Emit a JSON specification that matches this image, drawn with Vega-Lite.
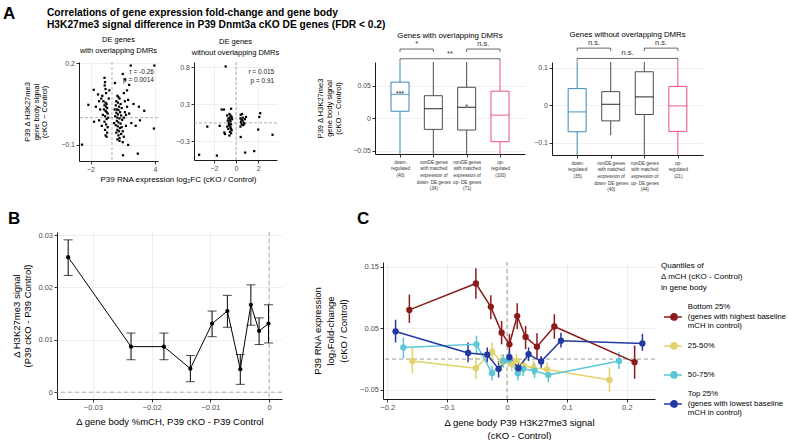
{
"$schema": "https://vega.github.io/schema/vega-lite/v6.json",
"padding": {"left": 3, "top": 4, "right": 0, "bottom": 0},
"bounds": "flush",
"spacing": 170,
"resolve": {"scale": {"color": "independent"}, "legend": {"color": "independent"}},
"datasets": {
"one": [{}],
"s1": [{"x":-0.7,"y":0.146},{"x":-0.65,"y":0.13},{"x":-0.68,"y":0.118},{"x":-0.6,"y":0.105},{"x":-0.55,"y":0.09},{"x":-0.9,"y":0.08},{"x":-1.0,"y":0.07},{"x":-0.8,"y":0.06},{"x":-0.6,"y":0.055},{"x":-0.5,"y":0.05},{"x":-0.7,"y":0.045},{"x":-0.55,"y":0.04},{"x":-0.45,"y":0.035},{"x":-0.75,"y":0.03},{"x":-0.6,"y":0.025},{"x":-0.5,"y":0.02},{"x":-0.4,"y":0.015},{"x":-0.85,"y":0.01},{"x":-0.65,"y":0.005},{"x":-0.5,"y":-0.005},{"x":-0.35,"y":0.0},{"x":-0.7,"y":-0.015},{"x":-0.55,"y":-0.025},{"x":-0.4,"y":-0.035},{"x":-0.65,"y":-0.045},{"x":-0.45,"y":-0.055},{"x":-0.6,"y":-0.065},{"x":-0.5,"y":-0.07},{"x":-0.3,"y":0.07},{"x":-0.25,"y":0.1},{"x":-1.3,"y":0.085},{"x":-1.5,"y":0.04},{"x":-1.2,"y":-0.01},{"x":-1.1,"y":0.03},{"x":-0.95,"y":-0.03},{"x":-1.7,"y":0.102},{"x":-2.2,"y":0.047},{"x":-1.67,"y":-0.015},{"x":-2.79,"y":-0.099},{"x":-1.2,"y":0.06},
{"x":0.28,"y":0.127},{"x":0.5,"y":0.08},{"x":0.6,"y":0.075},{"x":0.7,"y":0.07},{"x":0.4,"y":0.06},{"x":0.55,"y":0.055},{"x":0.8,"y":0.05},{"x":0.35,"y":0.045},{"x":0.65,"y":0.04},{"x":0.9,"y":0.035},{"x":0.45,"y":0.03},{"x":0.6,"y":0.028},{"x":0.75,"y":0.02},{"x":0.4,"y":0.018},{"x":0.55,"y":0.012},{"x":0.85,"y":0.008},{"x":0.3,"y":0.005},{"x":0.5,"y":0.0},{"x":0.7,"y":-0.003},{"x":0.95,"y":-0.008},{"x":0.45,"y":-0.012},{"x":0.6,"y":-0.018},{"x":0.8,"y":-0.022},{"x":0.35,"y":-0.028},{"x":0.55,"y":-0.032},{"x":0.75,"y":-0.038},{"x":0.5,"y":-0.045},{"x":0.65,"y":-0.05},{"x":0.4,"y":-0.055},{"x":0.85,"y":-0.06},{"x":0.6,"y":-0.065},{"x":0.7,"y":-0.075},{"x":0.5,"y":-0.08},{"x":1.0,"y":-0.09},{"x":0.7,"y":-0.085},{"x":1.02,"y":-0.138},{"x":1.5,"y":-0.1},{"x":1.1,"y":0.0},{"x":1.2,"y":0.02},{"x":1.3,"y":-0.03},{"x":1.4,"y":0.04},{"x":1.2,"y":0.06},{"x":1.1,"y":0.09},{"x":1.0,"y":-0.05},{"x":1.3,"y":0.01},{"x":1.6,"y":0.015},{"x":1.8,"y":-0.02},{"x":1.5,"y":0.065},{"x":1.74,"y":0.191},{"x":1.0,"y":0.16},{"x":1.2,"y":0.14},{"x":1.6,"y":0.12},{"x":1.4,"y":0.1},{"x":2.0,"y":0.05},{"x":2.2,"y":-0.03},{"x":2.4,"y":-0.132},{"x":2.5,"y":0.04},{"x":2.6,"y":-0.01},{"x":3.0,"y":0.025},{"x":3.94,"y":0.191},{"x":3.9,"y":-0.04},{"x":0.2,"y":-0.02},{"x":0.25,"y":0.03},{"x":0.9,"y":-0.035},{"x":1.1,"y":-0.07}],
"s2": [{"x":-0.94,"y":0.76},{"x":-2.6,"y":-0.05},{"x":-3.34,"y":-0.43},{"x":-1.73,"y":-0.44},{"x":-1.3,"y":0.18},{"x":-1.09,"y":0.18},{"x":-0.45,"y":0.19},{"x":-1.48,"y":-0.04},{"x":-1.06,"y":-0.13},{"x":-1.0,"y":-0.15},{"x":-0.8,"y":0.1},{"x":-0.7,"y":0.06},{"x":-0.6,"y":0.12},{"x":-0.55,"y":0.04},{"x":-0.5,"y":0.02},{"x":-0.65,"y":0.0},{"x":-0.45,"y":-0.02},{"x":-0.6,"y":-0.04},{"x":-0.5,"y":-0.06},{"x":-0.7,"y":-0.08},{"x":-0.4,"y":-0.1},{"x":-0.55,"y":-0.12},{"x":-0.45,"y":-0.14},{"x":-0.6,"y":-0.17},{"x":-0.75,"y":0.03},{"x":-0.4,"y":0.08},{"x":-0.5,"y":0.1},{"x":-0.35,"y":0.05},{"x":-0.65,"y":-0.02},{"x":-0.55,"y":0.07},{"x":-0.8,"y":-0.05},{"x":-0.45,"y":-0.08},{"x":0.42,"y":0.11},{"x":0.55,"y":0.12},{"x":0.4,"y":0.06},{"x":0.5,"y":0.04},{"x":0.6,"y":0.03},{"x":0.45,"y":0.01},{"x":0.7,"y":0.0},{"x":0.5,"y":-0.02},{"x":0.65,"y":-0.03},{"x":0.4,"y":-0.05},{"x":0.8,"y":0.05},{"x":0.6,"y":0.07},{"x":0.75,"y":-0.01},{"x":0.42,"y":-0.19},{"x":2.18,"y":0.13},{"x":2.1,"y":0.08},{"x":2.0,"y":-0.09},{"x":3.3,"y":-0.16},{"x":0.82,"y":-0.4},{"x":1.64,"y":-0.38},{"x":0.9,"y":0.08}],
"a1": [{"x":3.9,"y":0.167,"t":"r = -0.26"},{"x":3.9,"y":0.137,"t":"p = 0.0014"}],
"a2": [{"x":3.45,"y":0.68,"t":"r = 0.015"},{"x":3.45,"y":0.56,"t":"p = 0.91"}],
"bw": [{"i":1,"grp":"down","lo":-0.09,"q1":0.011,"med":0.037,"q3":0.056,"hi":0.12,"star":"***"},{"i":2,"grp":"non","lo":-0.09,"q1":-0.017,"med":0.015,"q3":0.035,"hi":0.12,"star":""},{"i":3,"grp":"non","lo":-0.09,"q1":-0.018,"med":0.017,"q3":0.048,"hi":0.12,"star":"*"},{"i":4,"grp":"up","lo":-0.09,"q1":-0.036,"med":0.005,"q3":0.042,"hi":0.12,"star":""}],
"bwo": [{"i":1,"grp":"down","lo":-0.2,"q1":-0.071,"med":-0.018,"q3":0.044,"hi":0.2},{"i":2,"grp":"non","lo":-0.08,"q1":-0.042,"med":0.002,"q3":0.036,"hi":0.2},{"i":3,"grp":"non","lo":-0.2,"q1":-0.025,"med":0.022,"q3":0.089,"hi":0.2},{"i":4,"grp":"up","lo":-0.2,"q1":-0.07,"med":-0.002,"q3":0.05,"hi":0.2}],
"kw": [{"a":1,"b":2,"mid":1.5,"y":0.107,"yt":0.1025,"label":"*"},{"a":3,"b":4,"mid":3.5,"y":0.107,"yt":0.1025,"label":"n.s."},{"a":1,"b":4,"mid":2.5,"y":0.092,"yt":0.0875,"label":"**"}],
"kwo": [{"a":1,"b":2,"mid":1.5,"y":0.152,"yt":0.144,"label":"n.s."},{"a":3,"b":4,"mid":3.5,"y":0.152,"yt":0.144,"label":"n.s."},{"a":1,"b":4,"mid":2.5,"y":0.1245,"yt":0.1165,"label":"n.s."}],
"bd": [{"x":-0.0342,"y":0.0258,"lo":0.0223,"hi":0.0291},{"x":-0.0235,"y":0.0087,"lo":0.0062,"hi":0.0113},{"x":-0.0179,"y":0.0087,"lo":0.0062,"hi":0.0113},{"x":-0.0134,"y":0.0045,"lo":0.002,"hi":0.007},{"x":-0.0097,"y":0.0131,"lo":0.0106,"hi":0.0155},{"x":-0.0071,"y":0.0155,"lo":0.0124,"hi":0.0185},{"x":-0.0049,"y":0.0044,"lo":0.0015,"hi":0.0072},{"x":-0.0031,"y":0.0167,"lo":0.0128,"hi":0.0205},{"x":-0.0017,"y":0.0117,"lo":0.0091,"hi":0.0142},{"x":-0.0001,"y":0.0131,"lo":0.0094,"hi":0.0167}],
"cd": [
{"q":"Bottom 25%","x":-0.163,"y":0.08,"lo":0.059,"hi":0.105},{"q":"Bottom 25%","x":-0.052,"y":0.123,"lo":0.098,"hi":0.148},{"q":"Bottom 25%","x":-0.027,"y":0.085,"lo":0.065,"hi":0.104},{"q":"Bottom 25%","x":-0.009,"y":0.043,"lo":0.024,"hi":0.062},{"q":"Bottom 25%","x":0.004,"y":0.024,"lo":0.005,"hi":0.041},{"q":"Bottom 25%","x":0.017,"y":0.07,"lo":0.049,"hi":0.091},{"q":"Bottom 25%","x":0.031,"y":0.036,"lo":0.016,"hi":0.054},{"q":"Bottom 25%","x":0.05,"y":0.02,"lo":0.0,"hi":0.042},{"q":"Bottom 25%","x":0.079,"y":0.053,"lo":0.033,"hi":0.073},{"q":"Bottom 25%","x":0.213,"y":-0.005,"lo":-0.032,"hi":0.022},
{"q":"25-50%","x":-0.158,"y":-0.003,"lo":-0.024,"hi":0.019},{"q":"25-50%","x":-0.052,"y":-0.015,"lo":-0.033,"hi":0.003},{"q":"25-50%","x":-0.025,"y":0.0125,"lo":-0.003,"hi":0.027},{"q":"25-50%","x":-0.009,"y":-0.005,"lo":-0.018,"hi":0.008},{"q":"25-50%","x":0.008,"y":-0.008,"lo":-0.02,"hi":0.004},{"q":"25-50%","x":0.016,"y":-0.003,"lo":-0.015,"hi":0.009},{"q":"25-50%","x":0.028,"y":-0.011,"lo":-0.023,"hi":0.001},{"q":"25-50%","x":0.044,"y":-0.014,"lo":-0.026,"hi":-0.002},{"q":"25-50%","x":0.067,"y":-0.017,"lo":-0.029,"hi":-0.005},{"q":"25-50%","x":0.171,"y":-0.034,"lo":-0.054,"hi":-0.014},
{"q":"50-75%","x":-0.173,"y":0.019,"lo":0.001,"hi":0.035},{"q":"50-75%","x":-0.051,"y":0.024,"lo":0.008,"hi":0.038},{"q":"50-75%","x":-0.025,"y":-0.023,"lo":-0.035,"hi":-0.011},{"q":"50-75%","x":-0.006,"y":-0.003,"lo":-0.014,"hi":0.008},{"q":"50-75%","x":0.004,"y":-0.001,"lo":-0.012,"hi":0.01},{"q":"50-75%","x":0.018,"y":-0.023,"lo":-0.035,"hi":-0.011},{"q":"50-75%","x":0.027,"y":-0.016,"lo":-0.028,"hi":-0.004},{"q":"50-75%","x":0.046,"y":-0.019,"lo":-0.031,"hi":-0.007},{"q":"50-75%","x":0.069,"y":-0.026,"lo":-0.038,"hi":-0.014},{"q":"50-75%","x":0.187,"y":-0.003,"lo":-0.016,"hi":0.011},
{"q":"Top 25%","x":-0.186,"y":0.045,"lo":0.027,"hi":0.064},{"q":"Top 25%","x":-0.065,"y":0.01,"lo":-0.005,"hi":0.027},{"q":"Top 25%","x":-0.033,"y":0.007,"lo":-0.005,"hi":0.019},{"q":"Top 25%","x":-0.014,"y":-0.016,"lo":-0.03,"hi":-0.003},{"q":"Top 25%","x":0.004,"y":0.003,"lo":-0.01,"hi":0.014},{"q":"Top 25%","x":0.019,"y":-0.015,"lo":-0.024,"hi":-0.005},{"q":"Top 25%","x":0.036,"y":0.008,"lo":-0.003,"hi":0.019},{"q":"Top 25%","x":0.057,"y":-0.004,"lo":-0.014,"hi":0.005},{"q":"Top 25%","x":0.09,"y":0.03,"lo":0.019,"hi":0.043},{"q":"Top 25%","x":0.226,"y":0.0255,"lo":0.0135,"hi":0.041}]
},
"vconcat": [
{
"hconcat": [
{"width": 22, "height": 1, "data": {"name": "one"}, "mark": {"type": "text", "text": ""},
 "title": {"text": "A", "anchor": "start", "frame": "group", "dx": -54, "offset": 21, "baseline": "alphabetic", "fontSize": 17, "fontWeight": "bold"}},
{"width": 79, "height": 99,
 "title": {"text": ["DE genes", "with overlapping DMRs"], "fontSize": 7.5, "lineHeight": 11, "offset": 5},
 "layer": [
  {"data": {"name": "one"}, "mark": {"type": "rule", "color": "#9A9A9A", "strokeDash": [3, 2], "strokeWidth": 0.8}, "encoding": {"x": {"datum": 0}}},
  {"data": {"name": "one"}, "mark": {"type": "rule", "color": "#9A9A9A", "strokeDash": [3, 2], "strokeWidth": 0.8}, "encoding": {"y": {"datum": 0}}},
  {"data": {"name": "s1"}, "mark": {"type": "square", "size": 5, "color": "black", "opacity": 1},
   "encoding": {
    "x": {"field": "x", "type": "quantitative", "scale": {"domain": [-3.07, 4.28], "nice": false, "zero": false},
          "axis": {"values": [-2, 0, 2, 4], "format": "~g", "grid": true, "title": "P39 RNA expression log₂FC (cKO / Control)", "titleX": 99, "titleAnchor": null, "titleAlign": "center", "titlePadding": 3}},
    "y": {"field": "y", "type": "quantitative", "scale": {"domain": [-0.159, 0.204], "nice": false, "zero": false},
          "axis": {"values": [-0.1, 0, 0.1, 0.2], "format": "~g", "grid": true, "title": ["P39 Δ H3K27me3", "gene body signal", "(cKO − Control)"], "titleFontSize": 7.5, "titleLineHeight": 8.5, "titlePadding": 12}}}},
  {"data": {"name": "a1"}, "mark": {"type": "text", "align": "right", "baseline": "middle", "fontSize": 6.5, "color": "#222"},
   "encoding": {"x": {"field": "x", "type": "quantitative"}, "y": {"field": "y", "type": "quantitative"}, "text": {"field": "t"}}}
 ]},
{"width": 36, "height": 1, "data": {"name": "one"}, "mark": {"type": "text", "text": ""},
 "title": {"text": ["Correlations of gene expression fold-change and gene body", "H3K27me3 signal difference in P39 Dnmt3a cKO DE genes (FDR < 0.2)"], "anchor": "start", "frame": "group", "dx": -111, "offset": 18, "baseline": "alphabetic", "fontSize": 10.2, "lineHeight": 12.5, "fontWeight": "bold", "limit": 1000}},
{"width": 83, "height": 98,
 "title": {"text": ["DE genes", "without overlapping DMRs"], "fontSize": 7.5, "lineHeight": 11, "offset": 5},
 "layer": [
  {"data": {"name": "one"}, "mark": {"type": "rule", "color": "#9A9A9A", "strokeDash": [3, 2], "strokeWidth": 0.8}, "encoding": {"x": {"datum": 0}}},
  {"data": {"name": "one"}, "mark": {"type": "rule", "color": "#9A9A9A", "strokeDash": [3, 2], "strokeWidth": 0.8}, "encoding": {"y": {"datum": 0}}},
  {"data": {"name": "s2"}, "mark": {"type": "square", "size": 5, "color": "black", "opacity": 1},
   "encoding": {
    "x": {"field": "x", "type": "quantitative", "scale": {"domain": [-3.8, 3.7], "nice": false, "zero": false},
          "axis": {"values": [-2, 0, 2], "format": "~g", "grid": true, "title": null}},
    "y": {"field": "y", "type": "quantitative", "scale": {"domain": [-0.5, 0.82], "nice": false, "zero": false},
          "axis": {"values": [-0.25, 0, 0.25, 0.5, 0.75], "format": "~g", "grid": true, "title": null}}}},
  {"data": {"name": "a2"}, "mark": {"type": "text", "align": "right", "baseline": "middle", "fontSize": 6.5, "color": "#222"},
   "encoding": {"x": {"field": "x", "type": "quantitative"}, "y": {"field": "y", "type": "quantitative"}, "text": {"field": "t"}}}
 ]},
{"width": 98, "height": 1, "data": {"name": "one"}, "mark": {"type": "text", "text": ""}},
{"width": 150, "height": 92,
 "title": {"text": "Genes with overlapping DMRs", "fontSize": 7.8, "offset": 0},
 "layer": [
  {"data": {"name": "bw"}, "mark": {"type": "rule", "strokeWidth": 1, "clip": true},
   "encoding": {"x": {"field": "i", "type": "quantitative"}, "y": {"field": "lo", "type": "quantitative"}, "y2": {"field": "hi"},
    "color": {"condition": [{"test": "datum.grp==='down'", "value": "#3A88B5"}, {"test": "datum.grp==='up'", "value": "#EE4E7C"}], "value": "#4D4D4D"}}},
  {"data": {"name": "bw"}, "mark": {"type": "bar", "width": 18, "fill": "white", "strokeWidth": 1},
   "encoding": {
    "x": {"field": "i", "type": "quantitative", "scale": {"domain": [0.4, 4.6], "nice": false, "zero": false},
          "axis": {"values": [1, 2, 3, 4], "grid": false, "title": null, "labelFontSize": 4.6, "labelLineHeight": 6.7, "labelColor": "#333", "labelPadding": 2,
                   "labelExpr": "datum.value===1 ? ['down-','regulated','(40)'] : datum.value===2 ? ['nonDE genes','with matched','expression of','down- DE genes','(34)'] : datum.value===3 ? ['nonDE genes','with matched','expression of','up- DE genes','(71)'] : ['up-','regulated','(100)']"}},
    "y": {"field": "q1", "type": "quantitative", "scale": {"domain": [-0.055, 0.087], "nice": false, "zero": false},
          "axis": {"values": [-0.05, 0, 0.05], "format": "~g", "grid": true, "title": ["P39 Δ H3K27me3", "gene body signal", "(cKO − Control)"], "titleFontSize": 7.5, "titleLineHeight": 9, "titlePadding": 10}},
    "y2": {"field": "q3"},
    "stroke": {"condition": [{"test": "datum.grp==='down'", "value": "#3A88B5"}, {"test": "datum.grp==='up'", "value": "#EE4E7C"}], "value": "#4D4D4D"}}},
  {"data": {"name": "bw"}, "mark": {"type": "tick", "orient": "horizontal", "size": 18, "thickness": 1.3},
   "encoding": {"x": {"field": "i", "type": "quantitative"}, "y": {"field": "med", "type": "quantitative"},
    "color": {"condition": [{"test": "datum.grp==='down'", "value": "#3A88B5"}, {"test": "datum.grp==='up'", "value": "#EE4E7C"}], "value": "#111"}}},
  {"data": {"name": "bw"}, "mark": {"type": "text", "baseline": "bottom", "fontSize": 7, "dy": 3, "color": "#222"},
   "encoding": {"x": {"field": "i", "type": "quantitative"}, "y": {"field": "med", "type": "quantitative"}, "text": {"field": "star"}}},
  {"data": {"name": "kw"}, "mark": {"type": "rule", "color": "#444", "strokeWidth": 0.8},
   "encoding": {"x": {"field": "a", "type": "quantitative"}, "x2": {"field": "b"}, "y": {"field": "y", "type": "quantitative"}}},
  {"data": {"name": "kw"}, "mark": {"type": "rule", "color": "#444", "strokeWidth": 0.8},
   "encoding": {"x": {"field": "a", "type": "quantitative"}, "y": {"field": "y", "type": "quantitative"}, "y2": {"field": "yt"}}},
  {"data": {"name": "kw"}, "mark": {"type": "rule", "color": "#444", "strokeWidth": 0.8},
   "encoding": {"x": {"field": "b", "type": "quantitative"}, "y": {"field": "y", "type": "quantitative"}, "y2": {"field": "yt"}}},
  {"data": {"name": "kw"}, "mark": {"type": "text", "baseline": "bottom", "fontSize": 7.5, "dy": -1, "color": "#333"},
   "encoding": {"x": {"field": "mid", "type": "quantitative"}, "y": {"field": "y", "type": "quantitative"}, "text": {"field": "label"}}}
 ]},
{"width": 27, "height": 1, "data": {"name": "one"}, "mark": {"type": "text", "text": ""}},
{"width": 151, "height": 93,
 "title": {"text": "Genes without overlapping DMRs", "fontSize": 7.8, "offset": 0},
 "layer": [
  {"data": {"name": "bwo"}, "mark": {"type": "rule", "strokeWidth": 1, "clip": true},
   "encoding": {"x": {"field": "i", "type": "quantitative"}, "y": {"field": "lo", "type": "quantitative"}, "y2": {"field": "hi"},
    "color": {"condition": [{"test": "datum.grp==='down'", "value": "#3A88B5"}, {"test": "datum.grp==='up'", "value": "#EE4E7C"}], "value": "#4D4D4D"}}},
  {"data": {"name": "bwo"}, "mark": {"type": "bar", "width": 18, "fill": "white", "strokeWidth": 1},
   "encoding": {
    "x": {"field": "i", "type": "quantitative", "scale": {"domain": [0.4, 4.6], "nice": false, "zero": false},
          "axis": {"values": [1, 2, 3, 4], "grid": false, "title": null, "labelFontSize": 4.6, "labelLineHeight": 6.7, "labelColor": "#333", "labelPadding": 2,
                   "labelExpr": "datum.value===1 ? ['down-','regulated','(35)'] : datum.value===2 ? ['nonDE genes','with matched','expression of','down- DE genes','(40)'] : datum.value===3 ? ['nonDE genes','with matched','expression of','up- DE genes','(44)'] : ['up-','regulated','(21)']"}},
    "y": {"field": "q1", "type": "quantitative", "scale": {"domain": [-0.133, 0.115], "nice": false, "zero": false},
          "axis": {"values": [-0.1, 0, 0.1], "format": "~g", "grid": true, "title": null}},
    "y2": {"field": "q3"},
    "stroke": {"condition": [{"test": "datum.grp==='down'", "value": "#3A88B5"}, {"test": "datum.grp==='up'", "value": "#EE4E7C"}], "value": "#4D4D4D"}}},
  {"data": {"name": "bwo"}, "mark": {"type": "tick", "orient": "horizontal", "size": 18, "thickness": 1.3},
   "encoding": {"x": {"field": "i", "type": "quantitative"}, "y": {"field": "med", "type": "quantitative"},
    "color": {"condition": [{"test": "datum.grp==='down'", "value": "#3A88B5"}, {"test": "datum.grp==='up'", "value": "#EE4E7C"}], "value": "#111"}}},
  {"data": {"name": "kwo"}, "mark": {"type": "rule", "color": "#444", "strokeWidth": 0.8},
   "encoding": {"x": {"field": "a", "type": "quantitative"}, "x2": {"field": "b"}, "y": {"field": "y", "type": "quantitative"}}},
  {"data": {"name": "kwo"}, "mark": {"type": "rule", "color": "#444", "strokeWidth": 0.8},
   "encoding": {"x": {"field": "a", "type": "quantitative"}, "y": {"field": "y", "type": "quantitative"}, "y2": {"field": "yt"}}},
  {"data": {"name": "kwo"}, "mark": {"type": "rule", "color": "#444", "strokeWidth": 0.8},
   "encoding": {"x": {"field": "b", "type": "quantitative"}, "y": {"field": "y", "type": "quantitative"}, "y2": {"field": "yt"}}},
  {"data": {"name": "kwo"}, "mark": {"type": "text", "baseline": "bottom", "fontSize": 7.5, "dy": -1, "color": "#333"},
   "encoding": {"x": {"field": "mid", "type": "quantitative"}, "y": {"field": "y", "type": "quantitative"}, "text": {"field": "label"}}}
 ]}
],
"spacing": 0,
"bounds": "flush"
},
{
"hconcat": [
{"width": 225, "height": 167,
 "title": {"text": "B", "anchor": "start", "frame": "group", "dx": -49, "offset": -10, "baseline": "alphabetic", "fontSize": 17, "fontWeight": "bold"},
 "layer": [
  {"data": {"name": "one"}, "mark": {"type": "rule", "color": "#9A9A9A", "strokeDash": [4, 3], "strokeWidth": 0.8}, "encoding": {"x": {"datum": 0}}},
  {"data": {"name": "one"}, "mark": {"type": "rule", "color": "#9A9A9A", "strokeDash": [4, 3], "strokeWidth": 0.8}, "encoding": {"y": {"datum": 0}}},
  {"data": {"name": "bd"}, "mark": {"type": "rule", "color": "black", "strokeWidth": 1},
   "encoding": {"x": {"field": "x", "type": "quantitative"}, "y": {"field": "lo", "type": "quantitative"}, "y2": {"field": "hi"}}},
  {"data": {"name": "bd"}, "mark": {"type": "tick", "orient": "horizontal", "size": 9, "thickness": 1, "color": "black"},
   "encoding": {"x": {"field": "x", "type": "quantitative"}, "y": {"field": "lo", "type": "quantitative"}}},
  {"data": {"name": "bd"}, "mark": {"type": "tick", "orient": "horizontal", "size": 9, "thickness": 1, "color": "black"},
   "encoding": {"x": {"field": "x", "type": "quantitative"}, "y": {"field": "hi", "type": "quantitative"}}},
  {"data": {"name": "bd"}, "mark": {"type": "line", "color": "black", "strokeWidth": 1},
   "encoding": {
    "x": {"field": "x", "type": "quantitative", "scale": {"domain": [-0.0361, 0.0022], "nice": false, "zero": false},
          "axis": {"values": [-0.03, -0.02, -0.01, 0], "format": "~g", "grid": true, "labelFontSize": 7.5, "title": "Δ gene body %mCH, P39 cKO - P39 Control", "titleFontSize": 9.5, "titlePadding": 5}},
    "y": {"field": "y", "type": "quantitative", "scale": {"domain": [-0.0013, 0.0306], "nice": false, "zero": false},
          "axis": {"values": [0, 0.01, 0.02, 0.03], "format": "~g", "grid": true, "labelFontSize": 7.5, "title": ["Δ H3K27me3 signal", "(P39 cKO - P39 Control)"], "titleFontSize": 9.5, "titleLineHeight": 11, "titlePadding": 5}}}},
  {"data": {"name": "bd"}, "mark": {"type": "circle", "size": 18, "color": "black", "opacity": 1},
   "encoding": {"x": {"field": "x", "type": "quantitative"}, "y": {"field": "y", "type": "quantitative"}}}
 ]},
{"width": 101, "height": 1, "data": {"name": "one"}, "mark": {"type": "text", "text": ""}},
{"vconcat": [
 {"width": 272, "height": 30, "data": {"name": "one"}, "mark": {"type": "text", "text": ""}},
 {"width": 272, "height": 137,
  "title": {"text": "C", "anchor": "start", "frame": "group", "dx": -26, "offset": 20.5, "baseline": "alphabetic", "fontSize": 17, "fontWeight": "bold"},
  "layer": [
   {"data": {"name": "one"}, "mark": {"type": "rule", "color": "#9A9A9A", "strokeDash": [4, 3], "strokeWidth": 1}, "encoding": {"x": {"datum": 0}}},
   {"data": {"name": "one"}, "mark": {"type": "rule", "color": "#9A9A9A", "strokeDash": [4, 3], "strokeWidth": 1}, "encoding": {"y": {"datum": 0}}},
   {"data": {"name": "cd"}, "mark": {"type": "rule", "strokeWidth": 1.5},
    "encoding": {"x": {"field": "x", "type": "quantitative"}, "y": {"field": "lo", "type": "quantitative"}, "y2": {"field": "hi"},
     "color": {"field": "q", "type": "nominal"}}},
   {"data": {"name": "cd"}, "mark": {"type": "line", "strokeWidth": 1.5},
    "encoding": {
     "x": {"field": "x", "type": "quantitative", "scale": {"domain": [-0.207, 0.247], "nice": false, "zero": false},
           "axis": {"values": [-0.2, -0.1, 0, 0.1, 0.2], "format": "~g", "grid": true, "labelFontSize": 7.5, "title": ["Δ gene body P39 H3K27me3 signal", "(cKO - Control)"], "titleFontSize": 9.5, "titleLineHeight": 13, "titlePadding": 6}},
     "y": {"field": "y", "type": "quantitative", "scale": {"domain": [-0.065, 0.158], "nice": false, "zero": false},
           "axis": {"values": [-0.05, 0, 0.05, 0.1, 0.15], "labelExpr": "datum.value == 0 ? '0' : format(datum.value, '.2f')", "grid": true, "labelFontSize": 7.5, "title": ["P39 RNA expression", "log₂Fold-change", "(cKO / Control)"], "titleFontSize": 9.5, "titleLineHeight": 13, "titlePadding": 11}},
     "color": {"field": "q", "type": "nominal",
       "scale": {"domain": ["Bottom 25%", "25-50%", "50-75%", "Top 25%"], "range": ["#8B1A1A", "#E2D36B", "#5CC6D6", "#2438A2"]},
       "legend": {"title": ["Quantiles of", "Δ mCH (cKO - Control)", "in gene body"],
         "labelExpr": "datum.label == 'Bottom 25%' ? ['Bottom 25%', '(genes with highest baseline', 'mCH in control)'] : datum.label == 'Top 25%' ? ['Top 25%', '(genes with lowest baseline', 'mCH in control)'] : ['', datum.label, '']"}}}},
   {"data": {"name": "cd"}, "mark": {"type": "point", "filled": true, "size": 40, "opacity": 1, "shape": "circle"},
    "encoding": {"x": {"field": "x", "type": "quantitative"}, "y": {"field": "y", "type": "quantitative"}, "color": {"field": "q", "type": "nominal"}}}
  ]}
], "spacing": 0, "bounds": "flush",
 "resolve": {"scale": {"color": "independent"}, "legend": {"color": "independent"}}}
],
"spacing": 0,
"bounds": "flush",
"resolve": {"scale": {"color": "independent"}, "legend": {"color": "independent"}}
}
],
"config": {
 "font": "Liberation Sans",
 "view": {"stroke": null},
 "axis": {"domainColor": "black", "domainWidth": 0.9, "tickColor": "black", "tickWidth": 0.8, "tickSize": 3, "labelColor": "#4D4D4D", "labelFontSize": 7, "labelPadding": 1.5, "titleFontSize": 8, "titleFontWeight": "normal", "titleColor": "black", "gridColor": "#EBEBEB", "gridWidth": 0.8, "labelFlush": false, "labelOverlap": false},
 "title": {"fontSize": 7.5, "fontWeight": "normal", "color": "black"},
 "legend": {"orient": "right", "offset": 6, "titleFontSize": 8, "titleFontWeight": "normal", "titleLineHeight": 11, "titlePadding": 11, "labelFontSize": 7.8, "labelLineHeight": 10, "labelLimit": 300, "labelOffset": 19, "labelColor": "black", "rowPadding": 0,
   "symbolType": "M-1,10H17M12.15,10A3.15,3.15,0,1,1,5.85,10A3.15,3.15,0,1,1,12.15,10", "symbolSize": 4, "symbolStrokeWidth": 1.5}
}
}
